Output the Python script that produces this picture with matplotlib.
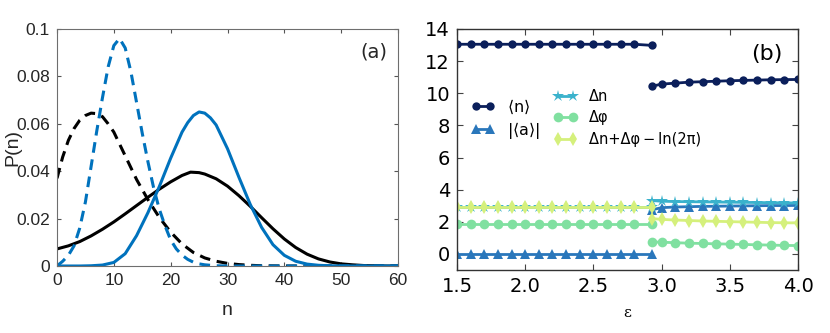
import matplotlib
matplotlib.use("Agg")
import matplotlib.pyplot as plt
import numpy as np

# ---------------- Panel (a) data ----------------
n_black_solid = [0, 2, 4, 6, 8, 10, 12, 14, 16, 18, 20, 22, 23.5, 25, 26, 28, 30, 32, 34, 36, 38, 40, 42, 44, 46, 48, 50, 52, 54, 56, 58, 60]
p_black_solid = [0.0072, 0.0085, 0.0103, 0.0127, 0.0155, 0.0186, 0.0220, 0.0255, 0.0290, 0.0324, 0.0355, 0.0382, 0.0396, 0.0394, 0.0388, 0.0368, 0.0337, 0.0297, 0.0252, 0.0204, 0.0157, 0.0114, 0.0078, 0.0050, 0.0030, 0.0017, 0.0009, 0.0005, 0.0002, 0.0001, 0.0, 0.0]

n_black_dash = [0, 1, 2, 3, 4, 5, 6, 7, 8, 9, 10, 12, 14, 16, 18, 20, 22, 24, 26, 28, 30, 32, 34, 36, 40, 45, 50, 55, 60]
p_black_dash = [0.037, 0.046, 0.053, 0.058, 0.0615, 0.0635, 0.0645, 0.0643, 0.0630, 0.0600, 0.0565, 0.0465, 0.0365, 0.0280, 0.0205, 0.0143, 0.0093, 0.0057, 0.0034, 0.0020, 0.0011, 0.0006, 0.0003, 0.0001, 0.0, 0.0, 0.0, 0.0, 0.0]

n_blue_dash = [0, 1, 2, 3, 4, 5, 6, 7, 8, 9, 10, 11, 12, 13, 14, 15, 16, 17, 18, 19, 20, 21, 22, 23, 24, 25, 26, 28, 30, 40, 50, 60]
p_blue_dash = [0.0, 0.002, 0.0045, 0.0085, 0.016, 0.027, 0.042, 0.057, 0.071, 0.084, 0.093, 0.096, 0.092, 0.082, 0.069, 0.056, 0.044, 0.033, 0.024, 0.017, 0.011, 0.0072, 0.0046, 0.0028, 0.0016, 0.0009, 0.0005, 0.0001, 0.0, 0.0, 0.0, 0.0]

n_blue_solid = [0, 4, 6, 8, 10, 12, 14, 16, 18, 20, 22, 23, 24, 25, 26, 27, 28, 30, 32, 34, 36, 38, 40, 42, 44, 46, 48, 50, 60]
p_blue_solid = [0.0, 0.0, 0.0001, 0.0004, 0.0015, 0.0052, 0.0128, 0.0225, 0.0335, 0.0455, 0.0565, 0.0605, 0.0635, 0.0650, 0.0645, 0.0625, 0.0595, 0.0495, 0.0375, 0.0260, 0.0163, 0.0090, 0.0045, 0.0020, 0.0008, 0.0003, 0.0001, 0.0, 0.0]

# ---------------- Panel (b) data ----------------
eps1 = [1.5, 1.6, 1.7, 1.8, 1.9, 2.0, 2.1, 2.2, 2.3, 2.4, 2.5, 2.6, 2.7, 2.8, 2.93]
eps2 = [2.93, 3.0, 3.1, 3.2, 3.3, 3.4, 3.5, 3.6, 3.7, 3.8, 3.9, 4.0]

mean_n1 = [13.05] * 14 + [12.98]
mean_n2 = [10.44, 10.57, 10.63, 10.69, 10.72, 10.75, 10.78, 10.80, 10.82, 10.84, 10.85, 10.86]
abs_a1 = [0.0] * 15
abs_a2 = [2.75, 2.88, 2.92, 2.94, 2.96, 2.97, 2.98, 2.99, 3.00, 3.01, 3.01, 3.02]
dn1 = [2.92] * 15
dn2 = [3.32, 3.28, 3.26, 3.25, 3.24, 3.23, 3.22, 3.21, 3.20, 3.19, 3.18, 3.17]
dphi1 = [1.84] * 15
dphi2 = [0.75, 0.73, 0.70, 0.67, 0.65, 0.63, 0.61, 0.59, 0.57, 0.55, 0.53, 0.52]
comb1 = [2.92] * 15
comb2 = [2.20, 2.15, 2.11, 2.08, 2.05, 2.03, 2.01, 1.99, 1.97, 1.95, 1.94, 1.93]

labels_b = [r'$\langle\mathrm{n}\rangle$', r'$|\langle\mathrm{a}\rangle|$',
            'Δn', 'Δφ', 'Δn+Δφ\u2009\u2212\u2009ln(2π)']

W, H = 830, 333
fig = plt.figure(figsize=(W / 100, H / 100), dpi=100)

# ---------------- Panel (a) ----------------
axa = fig.add_axes([57 / W, (H - 266) / H, 341 / W, 237 / H])
blue = '#0072BD'
lw = 2.2
axa.plot(n_black_solid, p_black_solid, color='black', lw=lw)
axa.plot(n_black_dash, p_black_dash, color='black', lw=lw, dashes=(3.5, 2.2))
axa.plot(n_blue_dash, p_blue_dash, color=blue, lw=lw, dashes=(3.5, 2.2))
axa.plot(n_blue_solid, p_blue_solid, color=blue, lw=lw)
axa.set_xlim(0, 60)
axa.set_ylim(0, 0.1)
axa.set_xticks([0, 10, 20, 30, 40, 50, 60])
axa.set_yticks([0, 0.02, 0.04, 0.06, 0.08, 0.1])
axa.set_yticklabels(['0', '0.02', '0.04', '0.06', '0.08', '0.1'])
fa = 'Liberation Sans'
for lab in axa.get_xticklabels() + axa.get_yticklabels():
    lab.set_fontfamily(fa)
    lab.set_fontsize(12.5)
    lab.set_color('#262626')
axa.tick_params(direction='in', top=True, right=True, length=3, width=0.8, color='#555555', pad=5)
for s in axa.spines.values():
    s.set_color('#6e6e6e')
    s.set_linewidth(0.8)
axa.set_xlabel('n', fontfamily=fa, fontsize=14, color='#262626', labelpad=10)
axa.set_ylabel('P(n)', fontfamily=fa, fontsize=14, color='#262626')
axa.yaxis.set_label_coords(-0.105, 0.5)
axa.text(0.97, 0.905, '(a)', transform=axa.transAxes, ha='right', va='center',
         fontfamily='DejaVu Sans', fontsize=14, color='#262626')

# ---------------- Panel (b) ----------------
axb = fig.add_axes([457 / W, (H - 270) / H, 341 / W, 241 / H])
colors = ['#0b1f5b', '#2a77bb', '#3ab2cc', '#80e0a0', '#d5f07c']
markers = ['o', '^', '*', 'o', 'd']
msizes = [6, 7, 9, 7, 7]
series1 = [mean_n1, abs_a1, dn1, dphi1, comb1]
series2 = [mean_n2, abs_a2, dn2, dphi2, comb2]
handles = []
for c, m, ms, y1, y2, lab in zip(colors, markers, msizes, series1, series2, labels_b):
    h, = axb.plot(eps1, y1, color=c, marker=m, ms=ms, lw=2, mew=0, label=lab)
    axb.plot(eps2, y2, color=c, marker=m, ms=ms, lw=2, mew=0)
    handles.append(h)
axb.set_xlim(1.5, 4.0)
axb.set_ylim(-1, 14)
axb.set_xticks([1.5, 2.0, 2.5, 3.0, 3.5, 4.0])
axb.set_xticklabels(['1.5', '2.0', '2.5', '3.0', '3.5', '4.0'])
axb.set_yticks([0, 2, 4, 6, 8, 10, 12, 14])
axb.tick_params(direction='in', top=True, right=True, length=4, width=0.8, labelsize=14, pad=5,
                color='#444444')
for s in axb.spines.values():
    s.set_color('#333333')
    s.set_linewidth(1.0)
axb.set_xlabel('ε', fontfamily='DejaVu Serif', fontsize=11, labelpad=7)
axb.text(0.955, 0.895, '(b)', transform=axb.transAxes, ha='right', va='center', fontsize=16)

leg1 = axb.legend(handles=handles[:2], loc='center left', bbox_to_anchor=(0.0, 0.625),
                  frameon=False, fontsize=11.5, handlelength=1.45, labelspacing=0.25,
                  handletextpad=0.8, numpoints=2)
axb.add_artist(leg1)
axb.legend(handles=handles[2:], loc='center left', bbox_to_anchor=(0.245, 0.632),
           frameon=False, fontsize=10.5, handlelength=1.6, labelspacing=0.45,
           handletextpad=0.8, numpoints=2)

fig.savefig('out.png', dpi=100)
